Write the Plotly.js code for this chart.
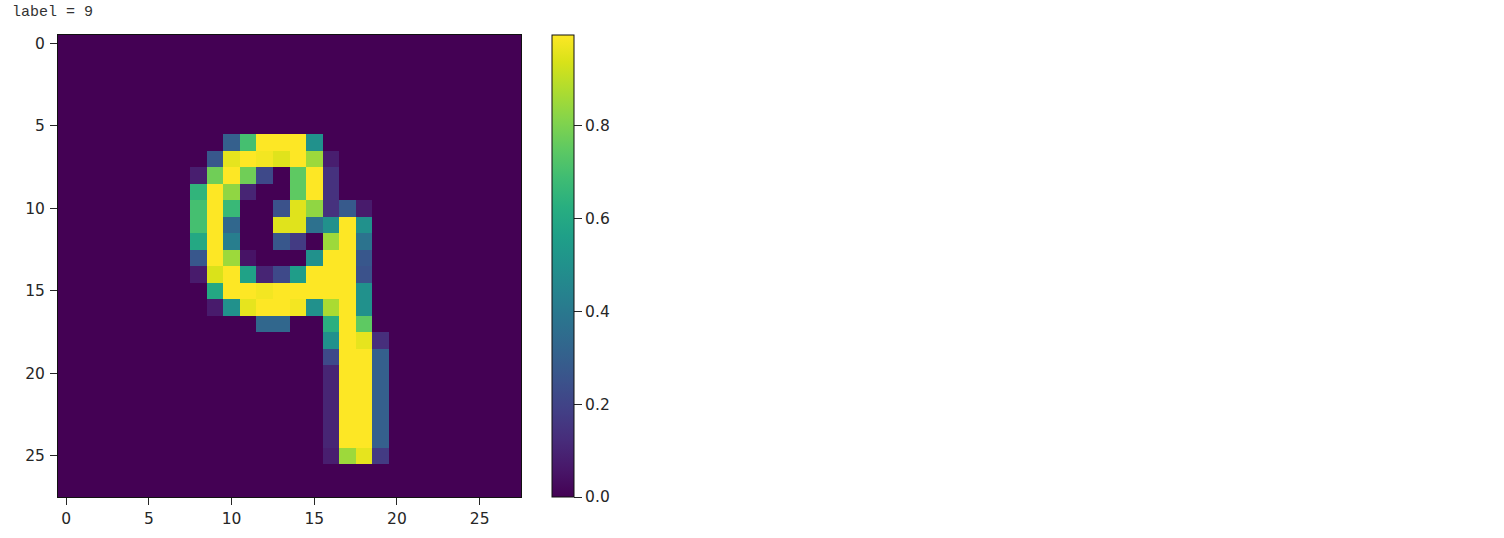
<!DOCTYPE html>
<html><head><meta charset="utf-8">
<script src="https://cdn.plot.ly/plotly-3.0.1.min.js"></script>
<style>html,body{margin:0;padding:0;background:#fff}#c{width:1504px;height:538px}</style>
</head><body><div id="c"></div>
<script>
const titleText = "label = 9";
const axisTicks = [0,5,10,15,20,25];
const barTicks = [0,0.2,0.4,0.6,0.8];
const blank = [0,0,0,0,0,0,0,0,0,0,0,0,0,0,0,0,0,0,0,0,0,0,0,0,0,0,0,0];
const row6  = [0,0,0,0,0,0,0,0,0,0,.30,.70,1,1,1,.50,0,0,0,0,0,0,0,0,0,0,0,0];
const row7  = [0,0,0,0,0,0,0,0,0,.27,.96,1,.98,.95,1,.85,.08,0,0,0,0,0,0,0,0,0,0,0];
const row8  = [0,0,0,0,0,0,0,0,.08,.78,1,.78,.22,0,.75,1,.14,0,0,0,0,0,0,0,0,0,0,0];
const row9  = [0,0,0,0,0,0,0,0,.65,1,.83,.10,0,0,.75,1,.14,0,0,0,0,0,0,0,0,0,0,0];
const row10 = [0,0,0,0,0,0,0,0,.70,1,.67,0,0,.25,.95,.83,.14,.28,.07,0,0,0,0,0,0,0,0,0];
const row11 = [0,0,0,0,0,0,0,0,.70,1,.33,0,0,.95,.95,.37,.50,1,.50,0,0,0,0,0,0,0,0,0];
const row12 = [0,0,0,0,0,0,0,0,.60,1,.42,0,0,.27,.17,0,.85,1,.38,0,0,0,0,0,0,0,0,0];
const row13 = [0,0,0,0,0,0,0,0,.27,1,.85,.05,0,0,0,.50,1,1,.27,0,0,0,0,0,0,0,0,0];
const row14 = [0,0,0,0,0,0,0,0,.07,.94,1,.57,.10,.22,.55,1,1,1,.25,0,0,0,0,0,0,0,0,0];
const row15 = [0,0,0,0,0,0,0,0,0,.60,1,1,.98,1,1,1,1,1,.50,0,0,0,0,0,0,0,0,0];
const row16 = [0,0,0,0,0,0,0,0,0,.07,.50,.96,1,1,.98,.50,.87,1,.50,0,0,0,0,0,0,0,0,0];
const row17 = [0,0,0,0,0,0,0,0,0,0,0,0,.33,.33,0,0,.63,1,.75,0,0,0,0,0,0,0,0,0];
const row18 = [0,0,0,0,0,0,0,0,0,0,0,0,0,0,0,0,.50,1,.96,.13,0,0,0,0,0,0,0,0];
const row19 = [0,0,0,0,0,0,0,0,0,0,0,0,0,0,0,0,.22,1,1,.30,0,0,0,0,0,0,0,0];
const row20 = [0,0,0,0,0,0,0,0,0,0,0,0,0,0,0,0,.10,1,1,.30,0,0,0,0,0,0,0,0];
const row21 = [0,0,0,0,0,0,0,0,0,0,0,0,0,0,0,0,.10,1,1,.30,0,0,0,0,0,0,0,0];
const row22 = [0,0,0,0,0,0,0,0,0,0,0,0,0,0,0,0,.10,1,1,.30,0,0,0,0,0,0,0,0];
const row23 = [0,0,0,0,0,0,0,0,0,0,0,0,0,0,0,0,.10,1,1,.30,0,0,0,0,0,0,0,0];
const row24 = [0,0,0,0,0,0,0,0,0,0,0,0,0,0,0,0,.10,1,1,.30,0,0,0,0,0,0,0,0];
const row25 = [0,0,0,0,0,0,0,0,0,0,0,0,0,0,0,0,.08,.85,.96,.17,0,0,0,0,0,0,0,0];
const pixels = [blank,blank,blank,blank,blank,blank,row6,row7,row8,row9,row10,row11,row12,row13,row14,row15,row16,row17,row18,row19,row20,row21,row22,row23,row24,row25,blank,blank];

const W = 1504, H = 538;
const L = 58, R = 521, T = 34.5, B = 497;
const tickFont = {family:'"DejaVu Sans", sans-serif', size:15.5, color:'#262626'};
const axisBase = {
  tickvals: axisTicks, ticktext: axisTicks.map(String), ticks:'outside', ticklen:7, tickwidth:1, tickcolor:'#262626',
  showgrid:false, zeroline:false, showline:true, mirror:true, linecolor:'#111', linewidth:1, tickfont:tickFont, automargin:false
};
Plotly.newPlot('c',[{
  type:'heatmap', z:pixels, colorscale:'Viridis', zmin:0, zmax:0.996, zsmooth:false, xgap:0, ygap:0,
  colorbar:{
    xref:'paper', yref:'paper', x:(552-L)/(R-L), xanchor:'left', y:0, yanchor:'bottom',
    lenmode:'fraction', len:1, thicknessmode:'pixels', thickness:22, xpad:0, ypad:0,
    tickvals:barTicks, ticktext:barTicks.map(v=>v.toFixed(1)), ticks:'outside', ticklen:8, tickwidth:1, tickcolor:'#262626',
    outlinewidth:1, outlinecolor:'#111', tickfont:tickFont, borderwidth:0
  }
}],{
  width:W, height:H, paper_bgcolor:'#fff', plot_bgcolor:'#fff',
  margin:{l:L,r:W-R,t:T,b:H-B,autoexpand:false},
  title:{text:titleText, xref:'container', yref:'container', x:12/W, xanchor:'left', y:1-11/H, yanchor:'middle', automargin:false,
    font:{family:'"Liberation Mono", monospace', size:15, color:'#333'}},
  xaxis:Object.assign({},axisBase,{range:[-0.5,27.5]}),
  yaxis:Object.assign({},axisBase,{range:[27.5,-0.5], ticklabelstandoff:2}),
  showlegend:false
},{displayModeBar:false});
</script></body></html>
